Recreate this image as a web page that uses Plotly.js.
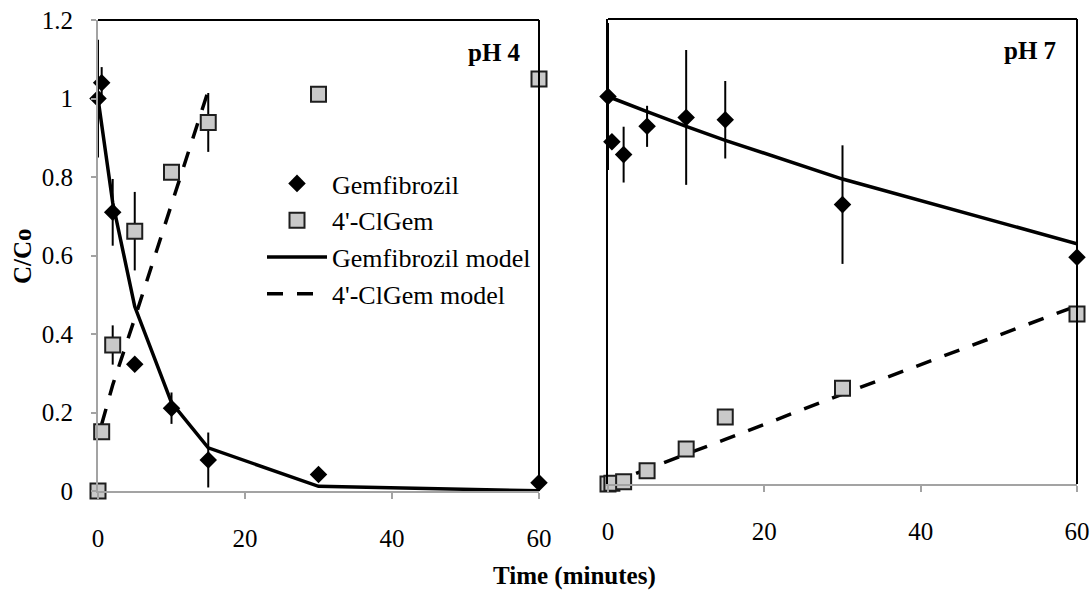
<!DOCTYPE html>
<html>
<head>
<meta charset="utf-8">
<script src="https://cdn.plot.ly/plotly-3.0.1.min.js"></script>
<style>html,body{margin:0;padding:0;background:#fff;}#chart{width:1092px;height:590px;}</style>
</head>
<body>
<div id="chart"></div>
<script>
// ---- data ----
const timesL = [0, 0.5, 2, 5, 10, 15, 30, 60];
const gemL = [1.0, 1.04, 0.71, 0.323, 0.211, 0.079, 0.042, 0.021];
const gemLerr = [0.15, 0.04, 0.085, 0, 0.04, 0.07, 0, 0];
const clL = [0.0, 0.151, 0.372, 0.662, 0.812, 0.939, 1.011, 1.05];
const clLerr = [0, 0.02, 0.05, 0.1, 0, 0.075, 0, 0];
const gemModelL = [1.0, 0.93, 0.735, 0.47, 0.225, 0.11, 0.012, 0.0005];
const clModelLt = [0.5, 2, 5, 10, 15];
const clModelL = [0.17, 0.27, 0.44, 0.73, 1.02];

const timesR = [0, 0.5, 2, 5, 10, 15, 30, 60];
const gemR = [1.0, 0.883, 0.85, 0.923, 0.946, 0.94, 0.721, 0.585];
const gemRerr = [0.19, 0, 0.072, 0.053, 0.174, 0.10, 0.153, 0.065];
const clR = [0.0, 0.002, 0.006, 0.034, 0.09, 0.173, 0.247, 0.439];
const gemModelR = [1.0, 0.996, 0.984, 0.961, 0.923, 0.887, 0.787, 0.62];
const clModelR = [0.0, 0.004, 0.015, 0.038, 0.077, 0.115, 0.232, 0.46];

const xTicks = [0, 20, 40, 60];
const yTicks = [0, 0.2, 0.4, 0.6, 0.8, 1, 1.2];
const yTickText = ['0', '0.2', '0.4', '0.6', '0.8', '1', '1.2'];

const names = ['Gemfibrozil', "4'-ClGem", 'Gemfibrozil model', "4'-ClGem model"];

// ---- styles ----
const FONT = 'Liberation Serif';
const GRAY = '#a3a3a3';
const diamond = {symbol: 'diamond', size: 13.5, color: '#000'};
const square = {symbol: 'square', size: 15, color: '#c9c9c9', line: {color: '#1e1e1e', width: 2}};
const errStyle = {type: 'data', visible: true, thickness: 2, width: 0, color: '#000'};
const solid = {color: '#000', width: 3.5};
const dashed = {color: '#000', width: 3.5, dash: '16px,14px'};

const traces = [
  // left panel
  {x: timesL, y: gemModelL, xaxis: 'x', yaxis: 'y', mode: 'lines', line: solid, name: names[2], legendrank: 3, legendgroup: 'g3', cliponaxis: false},
  {x: clModelLt, y: clModelL, xaxis: 'x', yaxis: 'y', mode: 'lines', line: dashed, name: names[3], legendrank: 4, legendgroup: 'g4', cliponaxis: false},
  {x: timesL, y: gemL, xaxis: 'x', yaxis: 'y', mode: 'markers', marker: diamond, error_y: Object.assign({array: gemLerr}, errStyle), name: names[0], legendrank: 1, legendgroup: 'g1', cliponaxis: false},
  {x: timesL, y: clL, xaxis: 'x', yaxis: 'y', mode: 'markers', marker: square, error_y: Object.assign({array: clLerr}, errStyle), name: names[1], legendrank: 2, legendgroup: 'g2', cliponaxis: false},
  // right panel
  {x: timesR, y: gemModelR, xaxis: 'x2', yaxis: 'y2', mode: 'lines', line: solid, showlegend: false, cliponaxis: false},
  {x: timesR, y: clModelR, xaxis: 'x2', yaxis: 'y2', mode: 'lines', line: dashed, showlegend: false, cliponaxis: false},
  {x: timesR, y: gemR, xaxis: 'x2', yaxis: 'y2', mode: 'markers', marker: diamond, error_y: Object.assign({array: gemRerr}, errStyle), showlegend: false, cliponaxis: false},
  {x: timesR, y: clR, xaxis: 'x2', yaxis: 'y2', mode: 'markers', marker: square, showlegend: false, cliponaxis: false}
];

const W = 1092, H = 590;
const px = v => v / W, py = v => (H - v) / H;

const xaxisBase = {
  range: [0, 60], tickvals: xTicks, ticktext: xTicks.map(String),
  showgrid: false, zeroline: false, showline: true, linecolor: GRAY, linewidth: 2,
  ticks: 'outside', ticklen: 6, tickwidth: 2, tickcolor: GRAY,
  tickfont: {family: FONT, size: 25, color: '#000'}, ticklabelstandoff: 18, fixedrange: true
};

const layout = {
  width: W, height: H,
  margin: {l: 0, r: 0, t: 0, b: 0},
  paper_bgcolor: '#fff', plot_bgcolor: '#fff',
  font: {family: FONT, size: 25, color: '#000'},
  showlegend: true,
  legend: {
    x: px(262), y: py(160), xanchor: 'left', yanchor: 'top',
    bgcolor: 'rgba(0,0,0,0)', borderwidth: 0,
    font: {family: FONT, size: 26, color: '#000'},
    traceorder: 'grouped', tracegroupgap: 0, itemwidth: 60
  },
  xaxis: Object.assign({}, xaxisBase, {domain: [px(98), px(539)], anchor: 'y'}),
  yaxis: {
    domain: [py(491), py(20)], range: [0, 1.2], anchor: 'x',
    tickvals: yTicks, ticktext: yTickText,
    showgrid: false, zeroline: false, showline: true, linecolor: GRAY, linewidth: 2,
    ticks: 'outside', ticklen: 5, tickwidth: 2, tickcolor: GRAY,
    tickfont: {family: FONT, size: 25, color: '#000'}, ticklabelstandoff: 13, fixedrange: true
  },
  xaxis2: Object.assign({}, xaxisBase, {domain: [px(608), px(1077)], anchor: 'y2'}),
  yaxis2: {
    domain: [py(484), py(19)], range: [0, 1.2], anchor: 'x2',
    showgrid: false, zeroline: false, showline: true, linecolor: '#000', linewidth: 2,
    ticks: '', showticklabels: false, fixedrange: true
  },
  shapes: [
    {type: 'line', xref: 'x domain', yref: 'y domain', x0: 0, x1: 1, y0: 1, y1: 1, line: {color: '#000', width: 2}},
    {type: 'line', xref: 'x domain', yref: 'y domain', x0: 1, x1: 1, y0: 0, y1: 1, line: {color: '#000', width: 2}},
    {type: 'line', xref: 'x2 domain', yref: 'y2 domain', x0: 0, x1: 1, y0: 1, y1: 1, line: {color: '#000', width: 2}},
    {type: 'line', xref: 'x2 domain', yref: 'y2 domain', x0: 1, x1: 1, y0: 0, y1: 1, line: {color: '#000', width: 2}}
  ],
  annotations: [
    {text: '<b>pH 4</b>', xref: 'paper', yref: 'paper', x: px(523), y: py(52), xanchor: 'right', yanchor: 'middle', showarrow: false, font: {family: FONT, size: 25, color: '#000'}},
    {text: '<b>pH 7</b>', xref: 'paper', yref: 'paper', x: px(1058), y: py(50), xanchor: 'right', yanchor: 'middle', showarrow: false, font: {family: FONT, size: 25, color: '#000'}},
    {text: '<b>C/Co</b>', xref: 'paper', yref: 'paper', x: px(22), y: py(256), xanchor: 'center', yanchor: 'middle', textangle: -90, showarrow: false, font: {family: FONT, size: 25, color: '#000'}},
    {text: '<b>Time (minutes)</b>', xref: 'paper', yref: 'paper', x: px(574), y: py(576), xanchor: 'center', yanchor: 'middle', showarrow: false, font: {family: FONT, size: 25, color: '#000'}}
  ]
};

Plotly.newPlot('chart', traces, layout, {staticPlot: true, displayModeBar: false});
</script>
</body>
</html>
